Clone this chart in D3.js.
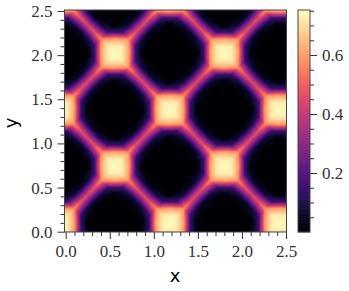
<!DOCTYPE html>
<html>
<head>
<meta charset="utf-8">
<script src="https://cdn.jsdelivr.net/npm/d3@7"></script>
<style>
  html, body { margin: 0; padding: 0; background: #fff; }
  svg { display: block; }
  text { font-family: "Liberation Serif", serif; fill: #333; }
</style>
</head>
<body>
<div id="chart"></div>
<script>
// the picture is a diagonal lattice, so the values are read along the two band directions
// (u runs up-right, v runs down-right), one row per v step
var latticeStep = 0.125;
var uStart = -2.125, vStart = -0.875;
var origin = [0.56, 2.02];      // centre of the peak used as lattice origin
var spacing = [0.62, 0.64];

var xTicks = [0, 0.5, 1, 1.5, 2, 2.5];
var yTicks = [0, 0.5, 1, 1.5, 2, 2.5];
var minorTicks = [0.1,0.2,0.3,0.4,0.6,0.7,0.8,0.9,1.1,1.2,1.3,1.4,1.6,1.7,1.8,1.9,2.1,2.2,2.3,2.4];
var barTicks = [0.2, 0.4, 0.6];
var barMinorTicks = [0.05,0.1,0.15,0.25,0.3,0.35,0.45,0.5,0.55,0.65,0.7,0.75];
var zRange = [0, 0.7525];

var rowA = [.73,.75,.73,.58,.48,.45,.48,.58,.73,.75,.73,.58,.48,.45,.48,.58,.73,.75,.73,.58,.48,.45,.48,.58,.73,.75,.73,.58,.48,.45,.48,.58,.73,.75];
var rowB = [.62,.73,.62,.15,.07,.05,.07,.15,.62,.73,.62,.15,.07,.05,.07,.15,.62,.73,.62,.15,.07,.05,.07,.15,.62,.73,.62,.15,.07,.05,.07,.15,.62,.73];
var rowC = [.15,.58,.15,0,0,0,0,0,.15,.58,.15,0,0,0,0,0,.15,.58,.15,0,0,0,0,0,.15,.58,.15,0,0,0,0,0,.15,.58];
var rowD = [.07,.48,.07,0,0,0,0,0,.07,.48,.07,0,0,0,0,0,.07,.48,.07,0,0,0,0,0,.07,.48,.07,0,0,0,0,0,.07,.48];
var rowE = [.05,.45,.05,0,0,0,0,0,.05,.45,.05,0,0,0,0,0,.05,.45,.05,0,0,0,0,0,.05,.45,.05,0,0,0,0,0,.05,.45];
var zRows = [
  rowB, rowC, rowD, rowE, rowD, rowC, rowB, rowA,
  rowB, rowC, rowD, rowE, rowD, rowC, rowB, rowA,
  rowB, rowC, rowD, rowE, rowD, rowC, rowB, rowA,
  rowB, rowC, rowD, rowE, rowD, rowC, rowB, rowA,
  rowB, rowC
];

var width = 349, height = 291;
var plot = {left: 64.5, right: 286.5, top: 10, bottom: 232};
var bar = {left: 298, right: 310};

var svg = d3.select("#chart").append("svg")
    .attr("width", width)
    .attr("height", height);

var x = d3.scaleLinear().domain([0, 2.5]).range([65.7, 286]);
var y = d3.scaleLinear().domain([0, 2.5]).range([231.7, 11]);
var color = d3.scaleSequential(d3.interpolateMagma).domain(zRange);
var zBar = d3.scaleLinear().domain(zRange).range([plot.bottom, plot.top]);

svg.append("clipPath").attr("id", "plot-clip")
  .append("rect")
    .attr("x", plot.left)
    .attr("y", plot.top)
    .attr("width", plot.right - plot.left)
    .attr("height", plot.bottom - plot.top);

// heat map as stacked contour bands
var nu = zRows[0].length, nv = zRows.length;
var thresholds = d3.range(0.005, 0.76, 0.005);
var contours = d3.contours().size([nu, nv]).thresholds(thresholds)(d3.merge(zRows));
var path = d3.geoPath(d3.geoTransform({
  point: function(cu, cv) {
    var u = uStart + (cu - 0.5) * latticeStep;
    var v = vStart + (cv - 0.5) * latticeStep;
    this.stream.point(x(origin[0] + spacing[0] * (u + v)), y(origin[1] + spacing[1] * (u - v)));
  }
}));

var heat = svg.append("g").attr("clip-path", "url(#plot-clip)");
heat.append("rect")
    .attr("x", plot.left)
    .attr("y", plot.top)
    .attr("width", plot.right - plot.left)
    .attr("height", plot.bottom - plot.top)
    .attr("fill", color(0));
heat.selectAll("path")
    .data(contours)
    .enter().append("path")
    .attr("d", path)
    .attr("fill", function(d) { return color(d.value); });

// axes, major and minor
function styleAxis(g) {
  g.select(".domain").remove();
  g.selectAll("line").attr("stroke", "#333").attr("stroke-width", 1);
  g.selectAll("text").style("font-size", "17px");
}
svg.append("g")
    .attr("transform", "translate(0," + plot.bottom + ")")
    .call(d3.axisBottom(x).tickValues(xTicks).tickSize(7).tickPadding(6).tickFormat(d3.format(".1f")))
    .call(styleAxis);
svg.append("g")
    .attr("transform", "translate(0," + plot.bottom + ")")
    .call(d3.axisBottom(x).tickValues(minorTicks).tickSize(4).tickFormat(""))
    .call(styleAxis);
svg.append("g")
    .attr("transform", "translate(" + plot.left + ",0)")
    .call(d3.axisLeft(y).tickValues(yTicks).tickSize(7).tickPadding(5).tickFormat(d3.format(".1f")))
    .call(styleAxis);
svg.append("g")
    .attr("transform", "translate(" + plot.left + ",0)")
    .call(d3.axisLeft(y).tickValues(minorTicks).tickSize(4).tickFormat(""))
    .call(styleAxis);

svg.append("rect")
    .attr("x", plot.left)
    .attr("y", plot.top)
    .attr("width", plot.right - plot.left)
    .attr("height", plot.bottom - plot.top)
    .attr("fill", "none")
    .attr("stroke", "#444")
    .attr("stroke-width", 1);

svg.append("text")
    .attr("x", 175)
    .attr("y", 282)
    .attr("text-anchor", "middle")
    .style("font-family", "'DejaVu Sans', sans-serif")
    .style("font-size", "18px")
    .style("fill", "#000")
    .text("x");
svg.append("text")
    .attr("transform", "translate(17,123)rotate(-90)")
    .attr("text-anchor", "middle")
    .style("font-family", "'DejaVu Sans', sans-serif")
    .style("font-size", "18px")
    .style("fill", "#000")
    .text("y");

// colour bar
var barLevels = d3.range(zRange[0], zRange[1], 0.0025);
svg.append("g").selectAll("rect")
    .data(barLevels)
    .enter().append("rect")
    .attr("x", bar.left)
    .attr("width", bar.right - bar.left)
    .attr("y", function(d) { return zBar(d + 0.0025) - 0.3; })
    .attr("height", function(d) { return zBar(d) - zBar(d + 0.0025) + 0.6; })
    .attr("fill", function(d) { return color(d); });
svg.append("rect")
    .attr("x", bar.left)
    .attr("y", plot.top)
    .attr("width", bar.right - bar.left)
    .attr("height", plot.bottom - plot.top)
    .attr("fill", "none")
    .attr("stroke", "#444")
    .attr("stroke-width", 1);
svg.append("g")
    .attr("transform", "translate(" + bar.right + ",0)")
    .call(d3.axisRight(zBar).tickValues(barTicks).tickSize(7).tickPadding(5).tickFormat(d3.format(".1f")))
    .call(styleAxis);
svg.append("g")
    .attr("transform", "translate(" + bar.right + ",0)")
    .call(d3.axisRight(zBar).tickValues(barMinorTicks).tickSize(4).tickFormat(""))
    .call(styleAxis);
</script>
</body>
</html>
